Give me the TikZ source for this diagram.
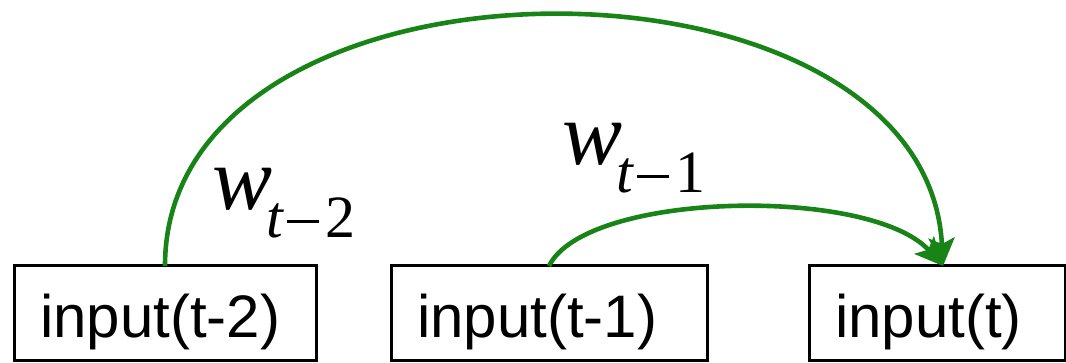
\documentclass[tikz,border=0pt]{standalone}
\usepackage{fontspec}
\setmainfont{Liberation Sans}
\newfontfamily\labelfont{Liberation Serif}
\usepackage{xcolor}
\usepackage{tikz}
\usetikzlibrary{arrows.meta, positioning}
\definecolor{linkgreen}{RGB}{24, 132, 24}
\newcommand{\wlabel}[1]{{\labelfont\itshape\fontsize{45}{45}\selectfont w}\kern-3pt
  \raisebox{-14pt}{\labelfont\fontsize{30}{30}\selectfont\itshape t\kern2pt\rule[7.5pt]{16pt}{1.3pt}\kern3pt\upshape #1}}

\begin{document}
\begin{tikzpicture}[x=0.5pt, y=-0.5pt,
    inbox/.style={draw, line width=1.5pt, inner xsep=13pt, inner ysep=0pt, outer sep=0pt,
                  text height=36pt, text depth=11.5pt, align=left,
                  font=\fontsize{30}{36}\selectfont},
    link/.style={draw=linkgreen, line width=2.3pt,
                 -{Stealth[length=14pt, width=13pt, inset=3pt]}},
    wlab/.style={anchor=base west, inner sep=0pt}
]
    \useasboundingbox (0,0) rectangle (1066,363);
    \node[inbox, text width=125pt, anchor=north west] (i1) at (14,266) {input(t-2)};
    \node[inbox, text width=132pt, right=37.5pt of i1] (i2) {input(t-1)};
    \node[inbox, text width=102pt, right=51pt of i2] (i3) {input(t)};

    \coordinate (hit) at ([xshift=3pt]i3.north);
    \draw[link] (i1.north) .. controls +(0,-333) and +(-17,-333) .. (hit);
    \draw[link] (i2.north) .. controls +(37,-75) and +(-72,-80) .. (hit);

    \node[wlab] (w2) at (212,210) {\wlabel{2}};
    \node[wlab] (w1) at (562,165) {\wlabel{1}};
\end{tikzpicture}
\end{document}
